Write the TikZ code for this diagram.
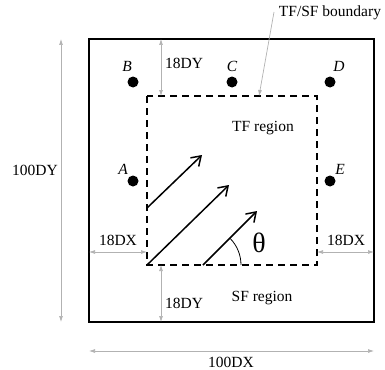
\documentclass[tikz,border=0pt]{standalone}
\usepackage{fontspec}
\setmainfont{Liberation Serif}
\usetikzlibrary{arrows.meta}
\begin{document}
\begin{tikzpicture}[x=1pt,y=-1pt,
  lbl/.style={font=\fontsize{15.5}{17}\selectfont, inner sep=0pt},
  ptlbl/.style={font=\fontsize{15.5}{17}\selectfont\itshape, inner sep=0pt},
  dim/.style={draw=gray!60, line width=0.7pt, {Latex[length=6pt,width=4pt]}-{Latex[length=6pt,width=4pt]}},
  flow/.style={line width=1.5pt, -{Straight Barb[length=9pt,width=12pt,line width=1.5pt]}},
  dot/.style={circle, fill=black, inner sep=0pt, minimum size=11pt}]
\useasboundingbox (0,0) rectangle (385,369);
% outer box
\draw[line width=1.8pt] (89,39) rectangle (374,322);
% dashed region
\draw[line width=1.5pt, dash pattern=on 7pt off 5pt] (147,96) rectangle (317,265);
% dots
\node[dot] (B) at (133,82) {};
\node[dot] (C) at (232,82) {};
\node[dot] (D) at (330,82) {};
\node[dot] (A) at (133,181) {};
\node[dot] (E) at (330,181) {};
\node[ptlbl] (Bl) at (127,66) {B};
\node[ptlbl] (Cl) at (232,66) {C};
\node[ptlbl] (Dl) at (339,66) {D};
\node[ptlbl] (Al) at (123,169) {A};
\node[ptlbl] (El) at (340,169) {E};
% flow arrows
\coordinate (f1s) at (147,208); \coordinate (f1e) at (202,155);
\coordinate (f2s) at (147,265); \coordinate (f2e) at (229,185);
\coordinate (f3s) at (203,265); \coordinate (f3e) at (257,211);
\draw[flow] (f1s) -- (f1e);
\draw[flow] (f2s) -- (f2e);
\draw[flow] (f3s) -- (f3e);
% angle
\draw[line width=0.8pt] (241,265) arc[start angle=0, end angle=-44, radius=38];
\node[font=\fontsize{28}{30}\selectfont, inner sep=0pt] (th) at (259,243) {θ};
% texts
\node[lbl] (tf) at (263,128) {TF region};
\node[lbl] (sf) at (262,298) {SF region};
\node[lbl] (bnd) at (330,13) {TF/SF boundary};
\coordinate (bndA) at (274,12);
\coordinate (bndB) at (259,96);
\draw[gray!60, line width=0.7pt, -{Latex[length=6pt,width=4pt]}] (bndA) -- (bndB);
% dimensions
\coordinate (t1) at (161,39); \coordinate (t2) at (161,96);
\draw[dim] (t1) -- (t2);
\node[lbl] (t18) at (184,63) {18DY};
\coordinate (b1) at (161,265); \coordinate (b2) at (161,322);
\draw[dim] (b1) -- (b2);
\node[lbl] (b18) at (184,303) {18DY};
\coordinate (l1) at (89,252); \coordinate (l2) at (147,252);
\draw[dim] (l1) -- (l2);
\node[lbl] (l18) at (118,240) {18DX};
\coordinate (r1) at (317,252); \coordinate (r2) at (374,252);
\draw[dim] (r1) -- (r2);
\node[lbl] (r18) at (346,240) {18DX};
\coordinate (v1) at (61,39); \coordinate (v2) at (61,322);
\draw[dim] (v1) -- (v2);
\node[lbl] (v100) at (35,170) {100DY};
\coordinate (h1) at (89,351); \coordinate (h2) at (374,351);
\draw[dim] (h1) -- (h2);
\node[lbl] (h100) at (231,362) {100DX};
\end{tikzpicture}
\end{document}
